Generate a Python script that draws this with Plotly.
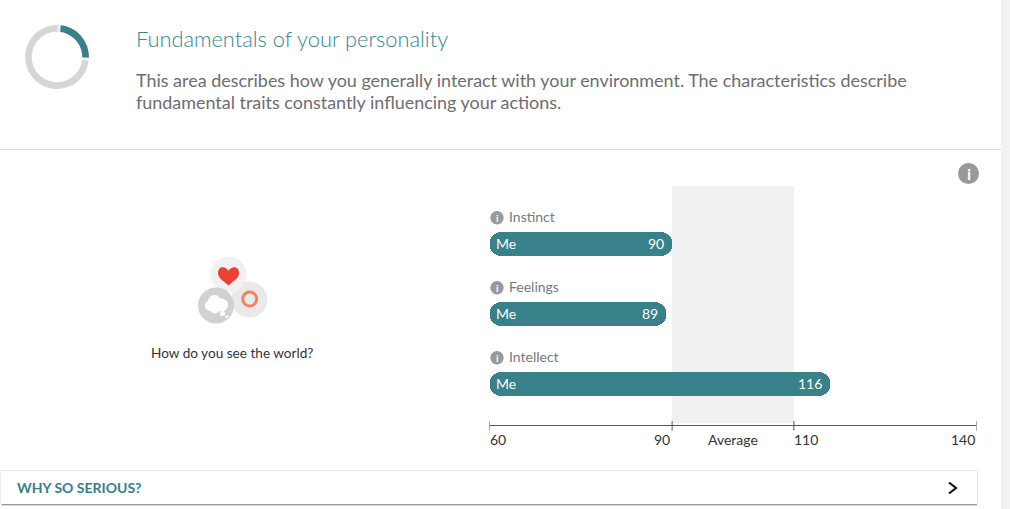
import math
import plotly.graph_objects as go

W, H = 1010, 509

TEAL = '#38808a'
GREY_TEXT = '#6d6e70'

# data
scales = ['Instinct', 'Feelings', 'Intellect']
me_values = [90, 89, 116]
axis_ticks = [60, 90, 110, 140]
average_band = [90, 110]
progress = [25, 75]


def px(x):
    return x / W


def py(y):
    return 1 - y / H


def text(x, y, s, size=14, color='#333333', anchor='left', family='Lato', **kw):
    return dict(xref='paper', yref='paper', x=px(x), y=py(y), text=s, showarrow=False,
                xanchor=anchor, yanchor='middle', align=anchor,
                font=dict(family=family, size=size, color=color),
                borderpad=0, **kw)


def circle(cx, cy, r, fill, line=None, width=0):
    return dict(type='circle', xref='paper', yref='paper', layer='above',
                x0=px(cx - r), x1=px(cx + r), y0=py(cy + r), y1=py(cy - r),
                fillcolor=fill, line=dict(color=line or fill, width=width))


def rect(x0, y0, x1, y1, fill, layer='below'):
    return dict(type='rect', xref='paper', yref='paper', layer=layer,
                x0=px(x0), x1=px(x1), y0=py(y1), y1=py(y0),
                fillcolor=fill, line=dict(width=0))


fig = go.Figure()

axis_x0, axis_x1 = 489.5, 976.5

fig.add_trace(go.Bar(
    x=[v - axis_ticks[0] for v in me_values],
    y=scales,
    base=axis_ticks[0],
    orientation='h',
    width=24 / 70,
    marker=dict(color=TEAL, line=dict(width=0), cornerradius='50%'),
    hoverinfo='skip',
))

# progress ring in the header
ring_start = 4
fig.add_trace(go.Pie(
    values=progress,
    domain=dict(x=[px(25), px(89)], y=[py(89), py(25)]),
    hole=0.79,
    sort=False,
    direction='clockwise',
    rotation=ring_start,
    marker=dict(colors=[TEAL, '#d6d6d6'], line=dict(width=0)),
    textinfo='none',
    hoverinfo='skip',
    showlegend=False,
))

shapes = [
    rect(1001, 0, 1010, 509, '#f2f2f2'),
    rect(0, 149, 1001, 150, '#d9d9d9'),
    # card at the bottom with its shadow
    rect(1, 503, 977, 506, '#d8d8d8'),
    rect(2, 504, 977, 505, '#9a9a9a'),
    rect(0, 471, 1, 504, '#eeeeee'),
    rect(977, 471, 978, 504, '#e2e2e2'),
    rect(1, 470, 977, 471, '#e8e8e8'),
    rect(1, 471, 977, 504, '#ffffff'),
    # average band
    dict(type='rect', xref='x', yref='paper', layer='below',
         x0=average_band[0], x1=average_band[1], y0=py(423), y1=py(186),
         fillcolor='#f1f1f1', line=dict(width=0)),
    # icon
    circle(249.5, 299.5, 18, '#e9e9e9'),
    circle(228.5, 274.5, 18, '#f1f1f1'),
    circle(216, 305.5, 18, '#d1d1d1'),
    circle(249.7, 299, 7, 'rgba(0,0,0,0)', '#f08461', 3),
    circle(210.5, 305.5, 5.5, '#ffffff'),
    circle(214.5, 301.5, 6.5, '#ffffff'),
    circle(221.5, 305, 6.5, '#ffffff'),
    circle(215, 308.5, 5, '#ffffff'),
    circle(222.5, 313.5, 2.5, '#ffffff'),
    circle(226.7, 316.5, 1.5, '#ffffff'),
    # info icons
    circle(968.5, 173.5, 10.5, '#98989d'),
]

# light gaps between the ring segments
for share in [0, progress[0] / sum(progress)]:
    a = math.radians(ring_start + 360 * share)
    shapes.append(dict(type='line', xref='paper', yref='paper', layer='above',
                       x0=px(57 + 24.5 * math.sin(a)), y0=py(57 - 24.5 * math.cos(a)),
                       x1=px(57 + 32.5 * math.sin(a)), y1=py(57 - 32.5 * math.cos(a)),
                       line=dict(color='#f0f0f0', width=3)))

# heart
hx, hy = 228.5, 267
heart = [(0, 4), (-3, -1.5, -10.5, -1, -10.5, 6), (-10.5, 12, -3, 15, 0, 18.5),
         (3, 15, 10.5, 12, 10.5, 6), (10.5, -1, 3, -1.5, 0, 4)]
path = 'M%f,%f' % (px(hx + heart[0][0]), py(hy + heart[0][1]))
for c in heart[1:]:
    path += ' C' + ' '.join('%f,%f' % (px(hx + c[i]), py(hy + c[i + 1])) for i in (0, 2, 4))
shapes.append(dict(type='path', xref='paper', yref='paper', layer='above', path=path + ' Z',
                   fillcolor='#ee4035', line=dict(width=0)))

# chevron on the card
shapes.append(dict(type='path', xref='paper', yref='paper', layer='above',
                   path='M%f,%f L%f,%f L%f,%f' % (px(949), py(482.5), px(956), py(488), px(949), py(493.5)),
                   line=dict(color='#111111', width=2.2)))

# axis line and ticks that cross it
axis_y = 425.5
shapes.append(dict(type='line', xref='x', yref='paper', layer='above',
                   x0=axis_ticks[0], x1=axis_ticks[-1], y0=py(axis_y), y1=py(axis_y),
                   line=dict(color='#555555', width=1)))
for t in axis_ticks:
    shapes.append(dict(type='line', xref='x', yref='paper', layer='above',
                       x0=t, x1=t, y0=py(421), y1=py(430.5),
                       line=dict(color='#555555', width=1)))

annotations = [
    text(135, 39, 'Fundamentals of your personality', size=21.8, color='#2f8791', family='Lato Light, Lato'),
    text(135, 80.5, 'This area describes how you generally interact with your environment. The characteristics describe',
         size=17.95, color=GREY_TEXT),
    text(135, 102.5, 'fundamental traits constantly influencing your actions.', size=17.95, color=GREY_TEXT),
    text(232, 353, 'How do you see the world?', size=13.6, anchor='center'),
    text(16, 487.5, '<b>WHY SO SERIOUS?</b>', size=14, color=TEAL),
    text(968.5, 173.5, '<b>i</b>', size=16, color='#ffffff', anchor='center'),
    text(732.5, 439, 'Average', size=14, anchor='center'),
]

# tick labels sit beside their tick, so they are placed one by one
for i, t in enumerate(axis_ticks):
    left = i % 2 == 0
    annotations.append(dict(xref='x', yref='paper', x=t, y=py(439), text=str(t), showarrow=False,
                            xanchor='left' if left else 'right', yanchor='middle',
                            xshift=-2 if left else 0, font=dict(family='Lato', size=14, color='#333333')))

for name, value, label_y in zip(scales, me_values, [217.5, 287.5, 357.5]):
    shapes.append(circle(497, label_y + 0.3, 6.7, '#98989d'))
    annotations.append(text(497, label_y + 0.3, '<b>i</b>', size=10, color='#ffffff', anchor='center'))
    annotations.append(text(508, label_y - 1, name, size=14, color='#77787b'))
    annotations.append(dict(xref='x', yref='y', x=axis_ticks[0], y=name, text='Me', showarrow=False,
                            xanchor='left', yanchor='middle', xshift=4, yshift=0.5,
                            font=dict(family='Lato', size=14, color='#ffffff')))
    annotations.append(dict(xref='x', yref='y', x=value, y=name, text=str(value), showarrow=False,
                            xanchor='right', yanchor='middle', xshift=-6.5, yshift=0.5,
                            font=dict(family='Lato', size=14, color='#ffffff')))

fig.update_layout(
    width=W,
    height=H,
    margin=dict(l=0, r=0, t=0, b=0),
    paper_bgcolor='#ffffff',
    plot_bgcolor='rgba(0,0,0,0)',
    showlegend=False,
    bargap=0,
    xaxis=dict(domain=[px(axis_x0), px(axis_x1)], range=[axis_ticks[0], axis_ticks[-1]],
               showgrid=False, zeroline=False, showticklabels=False, ticks='', fixedrange=True),
    yaxis=dict(domain=[py(axis_y), py(186)], range=[2 + (axis_y - 384) / 70, -(244 - 186) / 70],
               categoryorder='array', categoryarray=scales,
               showgrid=False, zeroline=False, showticklabels=False, ticks='', fixedrange=True),
    shapes=shapes,
    annotations=annotations,
)

fig.write_html('out.html', config=dict(displayModeBar=False),
               post_script="document.body.style.margin='0';")
